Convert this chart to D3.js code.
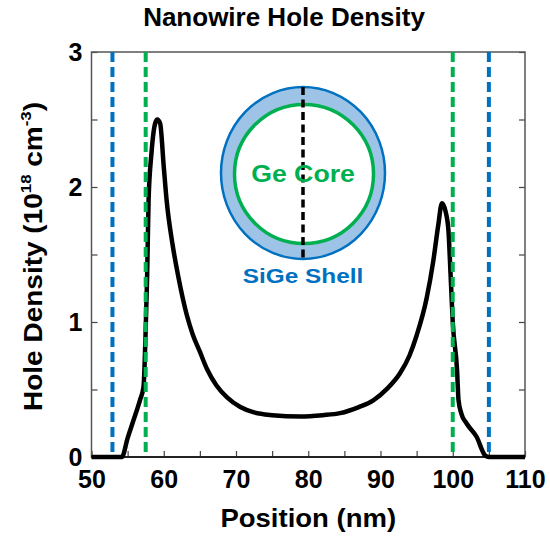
<!DOCTYPE html>
<html>
<head>
<meta charset="utf-8">
<script src="https://cdn.jsdelivr.net/npm/d3@7"></script>
<style>
  html, body { margin: 0; padding: 0; background: #fff; }
  svg { display: block; font-family: "Liberation Sans", Arial, sans-serif; }
</style>
</head>
<body>
<svg id="chart" width="550" height="537"></svg>
<script>
// Hole density across the nanowire diameter
const position = [50, 54.2, 55.0, 55.8, 56.7, 57.2, 57.45, 57.7, 57.9, 58.3, 58.8, 59.1, 59.5, 60.0, 60.4, 61.2, 62.0, 63.2, 64.0, 65.0, 66.0, 67.3, 68.8, 70.6, 72.5, 75.0, 78.9, 82.0, 84.4, 87.0, 89.0, 91.0, 92.7, 94.0, 95.0, 96.4, 97.3, 98.0, 98.5, 99.0, 99.4, 99.7, 100.0, 100.6, 100.8, 101.2, 101.9, 103.3, 104.5, 105.0, 110];
const density  = [0, 0, 0.14, 0.27, 0.42, 0.52, 0.85, 1.34, 1.90, 2.25, 2.47, 2.50, 2.47, 2.15, 1.90, 1.58, 1.34, 1.05, 0.91, 0.78, 0.65, 0.53, 0.44, 0.37, 0.33, 0.31, 0.30, 0.31, 0.325, 0.37, 0.42, 0.51, 0.62, 0.75, 0.90, 1.18, 1.45, 1.72, 1.88, 1.82, 1.68, 1.35, 1.00, 0.64, 0.42, 0.32, 0.25, 0.15, 0.01, 0, 0];

// Core / shell boundaries (nm)
const shellEdges = [52.9, 105];
const coreEdges = [57.5, 100];

// Axis ticks
const xTicks = [50, 55, 60, 65, 70, 75, 80, 85, 90, 95, 100, 105, 110];
const xTickLabels = [50, 60, 70, 80, 90, 100, 110];
const yTicks = [0, 0.5, 1, 1.5, 2, 2.5, 3];
const yTickLabels = [0, 1, 2, 3];

const BLUE = "#0070C0", GREEN = "#00B050", FILL = "#9DC3E6";

const svg = d3.select("#chart");
const m = { left: 91.5, right: 25, top: 52, bottom: 80 };
const W = 550, H = 537;
const x = d3.scaleLinear().domain([50, 110]).range([m.left, W - m.right]);
const y = d3.scaleLinear().domain([0, 3]).range([H - m.bottom, m.top]);

const fmt = labels => d => labels.includes(d) ? String(d) : "";

// Axes with inward ticks
const gx = svg.append("g").attr("transform", `translate(0,${y(0)})`)
  .call(d3.axisBottom(x).tickValues(xTicks).tickSizeInner(-6).tickSizeOuter(0).tickPadding(13).tickFormat(fmt(xTickLabels)));
const gy = svg.append("g").attr("transform", `translate(${x(50)},0)`)
  .call(d3.axisLeft(y).tickValues(yTicks).tickSizeInner(-6).tickSizeOuter(0).tickPadding(9).tickFormat(fmt(yTickLabels)));
const gr = svg.append("g").attr("transform", `translate(${x(110)},0)`)
  .call(d3.axisRight(y).tickValues(yTicks).tickSizeInner(-6).tickSizeOuter(0).tickFormat(""));
[gx, gy, gr].forEach(g => {
  g.select(".domain").remove();
  g.selectAll(".tick line").attr("stroke", "#444").attr("stroke-width", 1.2);
  g.selectAll(".tick text").attr("font-size", 25).attr("font-weight", "bold").attr("fill", "#000")
    .attr("font-family", "'Liberation Sans', Arial, sans-serif");
});

// Plot frame
svg.append("rect")
  .attr("x", x(50)).attr("y", y(3))
  .attr("width", x(110) - x(50)).attr("height", y(0) - y(3))
  .attr("fill", "none").attr("stroke", "#555").attr("stroke-width", 1.5);
svg.append("line").attr("x1", x(50)).attr("x2", x(110)).attr("y1", y(0)).attr("y2", y(0))
  .attr("stroke", "#222").attr("stroke-width", 2);

// Density curve
const line = d3.line().x((d, i) => x(position[i])).y(d => y(d)).curve(d3.curveMonotoneX);
svg.append("path").datum(density)
  .attr("d", line).attr("fill", "none").attr("stroke", "#000")
  .attr("stroke-width", 4.5).attr("stroke-linejoin", "round");

// Boundary markers
const edges = shellEdges.map(v => ({ v, c: BLUE })).concat(coreEdges.map(v => ({ v, c: GREEN })));
svg.selectAll(".edge").data(edges).join("line")
  .attr("class", "edge")
  .attr("x1", d => x(d.v)).attr("x2", d => x(d.v))
  .attr("y1", y(3)).attr("y2", y(0))
  .attr("stroke", d => d.c).attr("stroke-width", 4).attr("stroke-dasharray", "10,5");

// Cross-section inset
const cx = 303, cy = 173;
const inset = svg.append("g");
inset.append("ellipse").attr("cx", cx).attr("cy", cy).attr("rx", 82).attr("ry", 86)
  .attr("fill", FILL).attr("stroke", BLUE).attr("stroke-width", 2.5);
inset.append("circle").attr("cx", cx + 1).attr("cy", cy + 1).attr("r", 69.5)
  .attr("fill", "#fff").attr("stroke", GREEN).attr("stroke-width", 3.5);
inset.append("line").attr("x1", cx).attr("x2", cx).attr("y1", cy - 86).attr("y2", cy + 86)
  .attr("stroke", "#000").attr("stroke-width", 3.5).attr("stroke-dasharray", "8,4.5");
inset.append("text").attr("transform", `translate(${cx},${cy + 9}) scale(1.16,1)`)
  .attr("text-anchor", "middle")
  .attr("font-size", 23).attr("font-weight", "bold").attr("fill", GREEN).text("Ge Core");
inset.append("text").attr("transform", `translate(${cx},283) scale(1.16,1)`)
  .attr("text-anchor", "middle")
  .attr("font-size", 21).attr("font-weight", "bold").attr("fill", BLUE).text("SiGe Shell");

// Titles
svg.append("text").attr("x", 284).attr("y", 26).attr("text-anchor", "middle")
  .attr("font-size", 26).attr("font-weight", "bold").text("Nanowire Hole Density");
svg.append("text").attr("transform", `translate(${x(80)},527) scale(1.1,1)`)
  .attr("text-anchor", "middle")
  .attr("font-size", 25).attr("font-weight", "bold").text("Position (nm)");

const yl = svg.append("text")
  .attr("transform", `translate(42,${(y(0) + y(3)) / 2 + 2}) rotate(-90) scale(1.12,1)`)
  .attr("text-anchor", "middle").attr("font-size", 25).attr("font-weight", "bold");
yl.append("tspan").text("Hole Density (10");
yl.append("tspan").attr("font-size", 15).attr("dy", -11).text("18");
yl.append("tspan").attr("dy", 11).text(" cm");
yl.append("tspan").attr("font-size", 15).attr("dy", -11).text("-3");
yl.append("tspan").attr("dy", 11).text(")");
</script>
</body>
</html>
